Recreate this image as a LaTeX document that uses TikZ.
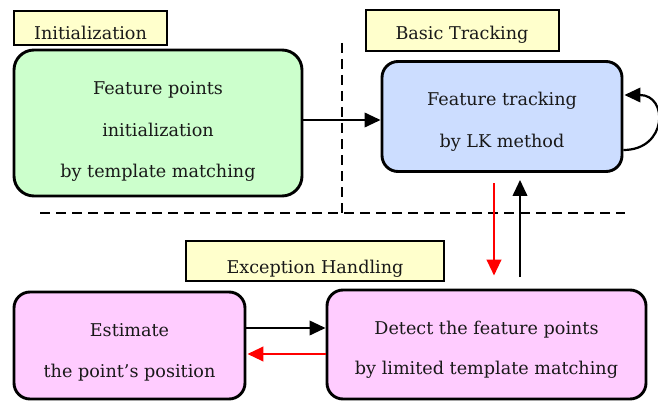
\documentclass[tikz,border=0pt]{standalone}
\usepackage{fontspec}
\setmainfont{DejaVu Serif}
\usetikzlibrary{arrows.meta,calc}
\definecolor{tagfill}{HTML}{FFFFCC}
\definecolor{initfill}{HTML}{CCFFCC}
\definecolor{trackfill}{HTML}{CCDDFF}
\definecolor{exfill}{HTML}{FFCCFF}
\begin{document}
\begin{tikzpicture}[x=1pt,y=-1pt,
  stagebox/.style={draw=black, line width=2.9pt, rounded corners=16pt, inner sep=0pt},
  tagbox/.style={draw=black, line width=2pt, fill=tagfill, inner sep=0pt},
  txt/.style={anchor=base, inner sep=0pt, font=\fontsize{17.6}{21}\selectfont, text=black!90},
  flow/.style={line width=2.2pt, -{Triangle[length=16pt,width=14.5pt]}},
  back/.style={flow, red, line width=2.5pt},
  divider/.style={line width=2.6pt, dash pattern=on 10pt off 6pt}]
\useasboundingbox (0,0) rectangle (658,401);

% phase dividers
\draw[divider] (342,43) -- (342,213);
\draw[divider] (40,213) -- (625,213);

% phase tags
\node[tagbox, minimum width=153, minimum height=34] (tagInit) at (90.5,28) {};
\node[txt] (tagInitT) at (90.5,40) {Initialization};
\node[tagbox, minimum width=193, minimum height=41] (tagTrack) at (462,31) {};
\node[txt] (tagTrackT) at (462,40) {Basic Tracking};
\node[tagbox, minimum width=258, minimum height=40] (tagEx) at (315,261) {};
\node[txt] (tagExT) at (315,273) {Exception Handling};

% process stages
\node[stagebox, fill=initfill, rounded corners=20pt, minimum width=288, minimum height=146] (init) at (158,123) {};
\node[txt] (initA) at (158,95) {Feature points};
\node[txt] (initB) at (158,136) {initialization};
\node[txt] (initC) at (158,177) {by template matching};

\node[stagebox, fill=trackfill, minimum width=240, minimum height=110] (track) at (502,116.5) {};
\node[txt] (trackA) at (502,106) {Feature tracking};
\node[txt] (trackB) at (502,147) {by LK method};

\node[stagebox, fill=exfill, minimum width=231, minimum height=107] (est) at (129.5,345.5) {};
\node[txt] (estA) at (129.5,336) {Estimate};
\node[txt] (estB) at (129.5,377) {the point’s position};

\node[stagebox, fill=exfill, minimum width=319, minimum height=109] (detect) at (486.5,344.5) {};
\node[txt] (detA) at (486.5,334) {Detect the feature points};
\node[txt] (detB) at (486.5,374) {by limited template matching};

% connectors
\coordinate (yInit) at (0,120);
\draw[flow] (init.east |- yInit) -- (track.west |- yInit);
\draw[flow] ($(track.east)+(0,33.5)$) .. controls +(44,0) and +(44,0) .. ($(track.east)+(1,-21.5)$);

\coordinate (downX) at (494,183);
\coordinate (upX) at (520,277);
\draw[back, shorten >=13pt] (downX) -- (downX |- detect.north);
\draw[flow, shorten >=7pt] (upX) -- (upX |- track.south);

\coordinate (yFwd) at (0,328);
\coordinate (yBack) at (0,354);
\draw[flow] (est.east |- yFwd) -- (detect.west |- yFwd);
\draw[back, shorten >=1pt] (detect.west |- yBack) -- (est.east |- yBack);
\end{tikzpicture}
\end{document}
